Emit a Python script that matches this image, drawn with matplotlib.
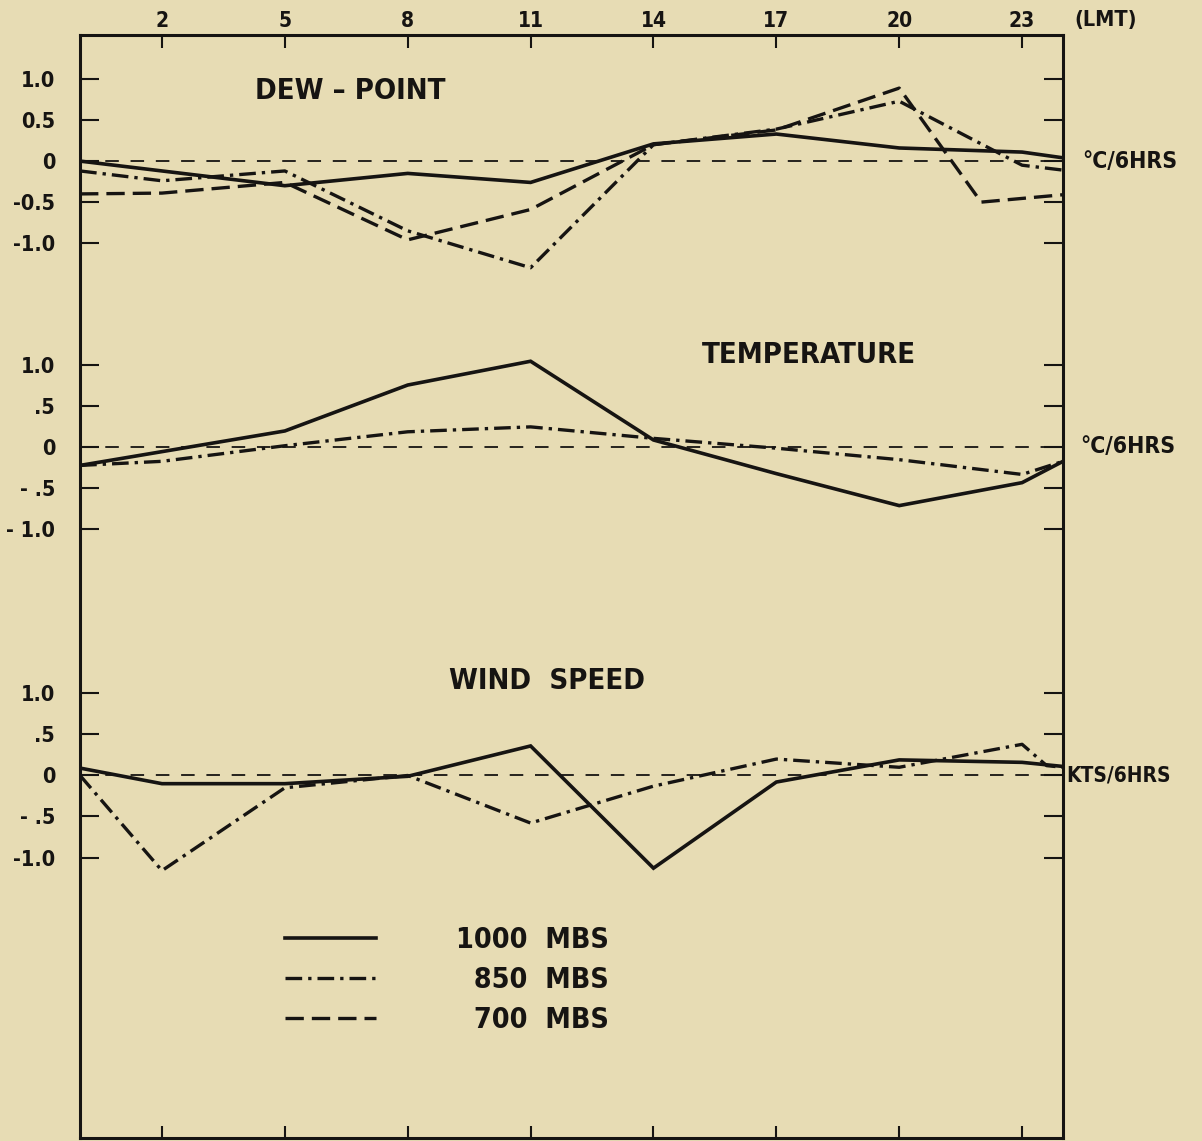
import matplotlib
matplotlib.use("Agg")
import matplotlib.pyplot as plt
import matplotlib.transforms as mtransforms

plt.rcParams['font.family'] = ['DejaVu Sans']
plt.rcParams['font.weight'] = 'bold'
plt.rcParams['font.stretch'] = 'condensed'

# ---- data (hours LMT, change per 6 hrs) ----
hour_ticks = [2, 5, 8, 11, 14, 17, 20, 23]

dew_1000_x = [0, 5, 8, 11, 14, 17, 20, 23, 24]
dew_1000 = [0.0, -0.30, -0.15, -0.26, 0.21, 0.33, 0.16, 0.11, 0.04]
dew_850_x = [0, 2, 5, 8, 11, 14, 17, 20, 23, 24]
dew_850 = [-0.12, -0.24, -0.12, -0.85, -1.30, 0.20, 0.39, 0.73, -0.05, -0.11]
dew_700_x = [0, 2, 5, 8, 11, 14, 17, 20, 22, 24]
dew_700 = [-0.40, -0.39, -0.26, -0.96, -0.59, 0.20, 0.38, 0.89, -0.50, -0.41]

temp_1000_x = [0, 5, 8, 11, 14, 17, 20, 23, 24]
temp_1000 = [-0.23, 0.19, 0.75, 1.04, 0.08, -0.33, -0.72, -0.44, -0.18]
temp_850_x = [0, 2, 5, 8, 11, 14, 17, 20, 23, 24]
temp_850 = [-0.23, -0.18, 0.01, 0.18, 0.24, 0.10, -0.02, -0.16, -0.34, -0.18]

wind_1000_x = [0, 2, 5, 8, 11, 14, 17, 20, 23, 24]
wind_1000 = [0.09, -0.10, -0.10, -0.01, 0.36, -1.13, -0.08, 0.19, 0.16, 0.11]
wind_850_x = [0, 2, 5, 8, 11, 14, 17, 20, 23, 23.6, 24]
wind_850 = [0.0, -1.16, -0.15, 0.0, -0.58, -0.13, 0.20, 0.10, 0.38, 0.12, 0.10]

tick_vals = [1.0, 0.5, 0, -0.5, -1.0]
dew_ticklabels = ['1.0', '0.5', '0', '-0.5', '-1.0']
temp_ticklabels = ['1.0', '.5', '0', '- .5', '- 1.0']
wind_ticklabels = ['1.0', '.5', '0', '- .5', '-1.0']

titles = ['DEW \u2013 POINT', 'TEMPERATURE', 'WIND  SPEED']
units = ['\u00b0C/6HRS', '\u00b0C/6HRS', 'KTS/6HRS']
legend_labels = ['1000  MBS', '\u2007850  MBS', '\u2007700  MBS']

# vertical offsets of each panel's zero line (layout)
off_dew, off_temp, off_wind = 0.0, -3.48, -7.49

bg = '#e7dcb4'
ink = '#161412'
solid = dict(color=ink, lw=2.6, linestyle='-', solid_joinstyle='miter')
dashdot = dict(color=ink, lw=2.4, linestyle=(0, (5.0, 1.8, 1.0, 1.8)))
dashed = dict(color=ink, lw=2.4, linestyle=(0, (5.5, 2.4)))
zero = dict(color=ink, lw=1.3, linestyle=(0, (7.5, 6.5)))

fig = plt.figure(figsize=(12.02, 11.41), dpi=100, facecolor=bg)
ax = fig.add_axes([0.0666, 0.0026, 0.8178, 0.9667])
ax.set_facecolor(bg)

def sh(vals, off):
    return [v + off for v in vals]

# zero lines
for off in (off_dew, off_temp, off_wind):
    ax.axhline(off, **zero)

l1, = ax.plot(dew_1000_x, sh(dew_1000, off_dew), **solid)
l2, = ax.plot(dew_850_x, sh(dew_850, off_dew), **dashdot)
l3, = ax.plot(dew_700_x, sh(dew_700, off_dew), **dashed)
ax.plot(temp_1000_x, sh(temp_1000, off_temp), **solid)
ax.plot(temp_850_x, sh(temp_850, off_temp), **dashdot)
ax.plot(wind_1000_x, sh(wind_1000, off_wind), **solid)
ax.plot(wind_850_x, sh(wind_850, off_wind), **dashdot)

ax.set_xlim(0, 24)
ax.set_ylim(-11.91, 1.537)

ax.xaxis.tick_top()
ax.set_xticks(hour_ticks)
ax.set_xticklabels([str(h) for h in hour_ticks])
ax.tick_params(axis='x', which='both', top=True, bottom=True, labeltop=True,
               labelbottom=False, direction='in', length=9, width=1.5,
               labelsize=15, pad=3, colors=ink)

yt, yl = [], []
for off, labs in ((off_dew, dew_ticklabels), (off_temp, temp_ticklabels),
                  (off_wind, wind_ticklabels)):
    yt += [v + off for v in tick_vals]
    yl += labs
ax.set_yticks(yt)
ax.set_yticklabels(yl)
ax.tick_params(axis='y', left=True, right=True, labelleft=True, labelright=False,
               direction='in', length=14, width=1.5, labelsize=15.5, pad=18,
               colors=ink)

for s in ax.spines.values():
    s.set_linewidth(2.2)
    s.set_color(ink)

# panel titles
ax.text(6.6, off_dew + 0.85, titles[0], fontsize=21, ha='center', va='center', color=ink)
ax.text(17.8, off_temp + 1.12, titles[1], fontsize=21, ha='center', va='center', color=ink)
ax.text(11.4, off_wind + 1.15, titles[2], fontsize=21, ha='center', va='center', color=ink)

# unit labels on the right
trans = mtransforms.blended_transform_factory(ax.transAxes, ax.transData)
ax.text(1.02, off_dew, units[0], transform=trans, fontsize=16.5, ha='left', va='center', color=ink)
ax.text(1.018, off_temp, units[1], transform=trans, fontsize=16.5, ha='left', va='center', color=ink)
ax.text(1.003, off_wind, units[2], transform=trans, fontsize=15, ha='left', va='center', color=ink)
ax.text(1.012, 1.014, '(LMT)', transform=ax.transAxes, fontsize=15.5, ha='left',
        va='center', color=ink, clip_on=False)

leg = ax.legend([l1, l2, l3], legend_labels, loc='upper left',
                bbox_to_anchor=(0.2085, 0.192), frameon=False, fontsize=20.5,
                handlelength=3.2, handletextpad=2.8, labelspacing=0.42,
                borderpad=0, borderaxespad=0)
for t in leg.get_texts():
    t.set_color(ink)

fig.savefig('out.png', dpi=100, facecolor=bg)
